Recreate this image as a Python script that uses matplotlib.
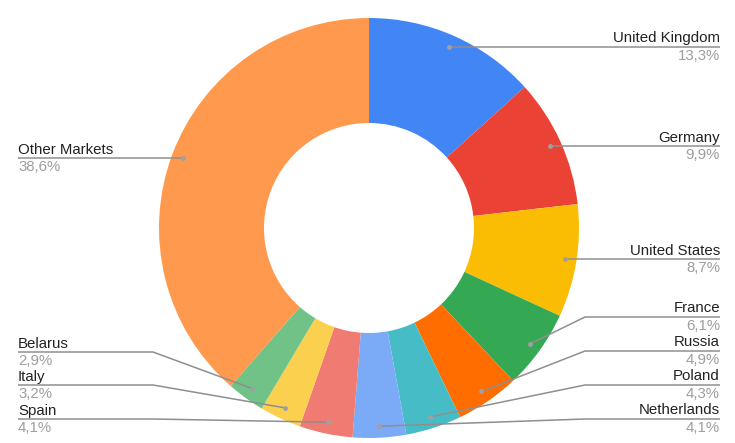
import numpy as np
from matplotlib import pyplot as plt

plt.rcParams["font.family"] = ["Liberation Sans", "DejaVu Sans"]

# data
markets = ["United Kingdom", "Germany", "United States", "France", "Russia",
           "Poland", "Netherlands", "Spain", "Italy", "Belarus", "Other Markets"]
shares = [13.3, 9.9, 8.7, 6.1, 4.9, 4.3, 4.1, 4.1, 3.2, 2.9, 38.6]
colors = ["#4285F4", "#EA4335", "#FBBC04", "#34A853", "#FF6D01", "#46BDC6",
          "#7BAAF7", "#F07B72", "#FCD04F", "#71C287", "#FF994D"]

W, H = 735, 443
CX, CY = 369, H - 228
R = 210
HOLE = 105

# label line heights (pixels from top); None -> line at the slice's dot
label_y = [None, None, None, 317, 351, 385, 419, 419, 385, 352, None]

fig = plt.figure(figsize=(W / 100, H / 100), dpi=100)
ax = fig.add_axes([0, 0, 1, 1])

ax.pie(shares, colors=colors, startangle=90, counterclock=False,
       center=(CX, CY), radius=R, wedgeprops=dict(width=R - HOLE, linewidth=0))

total = sum(shares)
cum = 0.0
line_col = "#8f8f8f"
for name, v, ly in zip(markets, shares, label_y):
    mid = (cum + v / 2) / total * 2 * np.pi
    cum += v
    dx = CX + 0.945 * R * np.sin(mid)
    dy = CY + 0.945 * R * np.cos(mid)
    right = dx >= CX
    yy = dy if ly is None else H - ly
    if right:
        xs = [dx, 720] if ly is None else [dx, 585, 720]
        ys = [yy, yy] if ly is None else [dy, yy, yy]
        tx, ha = 720, "right"
    else:
        xs = [dx, 18] if ly is None else [dx, 153, 18]
        ys = [yy, yy] if ly is None else [dy, yy, yy]
        tx, ha = 18, "left"
    ax.plot(xs, ys, color=line_col, lw=1.1, solid_capstyle="butt", zorder=3)
    ax.plot([dx], [dy], "o", color="#a0a0a0", ms=3.5, mec="none", zorder=4)
    ax.text(tx, yy + 1.5, name, ha=ha, va="bottom", fontsize=10.8, color="#222222")
    pct = f"{v:.1f}".replace(".", ",") + "%"
    ax.text(tx, yy - 2, pct, ha=ha, va="top", fontsize=10.8, color="#9e9e9e")

ax.set_xlim(0, W)
ax.set_ylim(0, H)
ax.set_aspect("equal")
ax.axis("off")

plt.savefig("out.png", dpi=100, facecolor="white")
